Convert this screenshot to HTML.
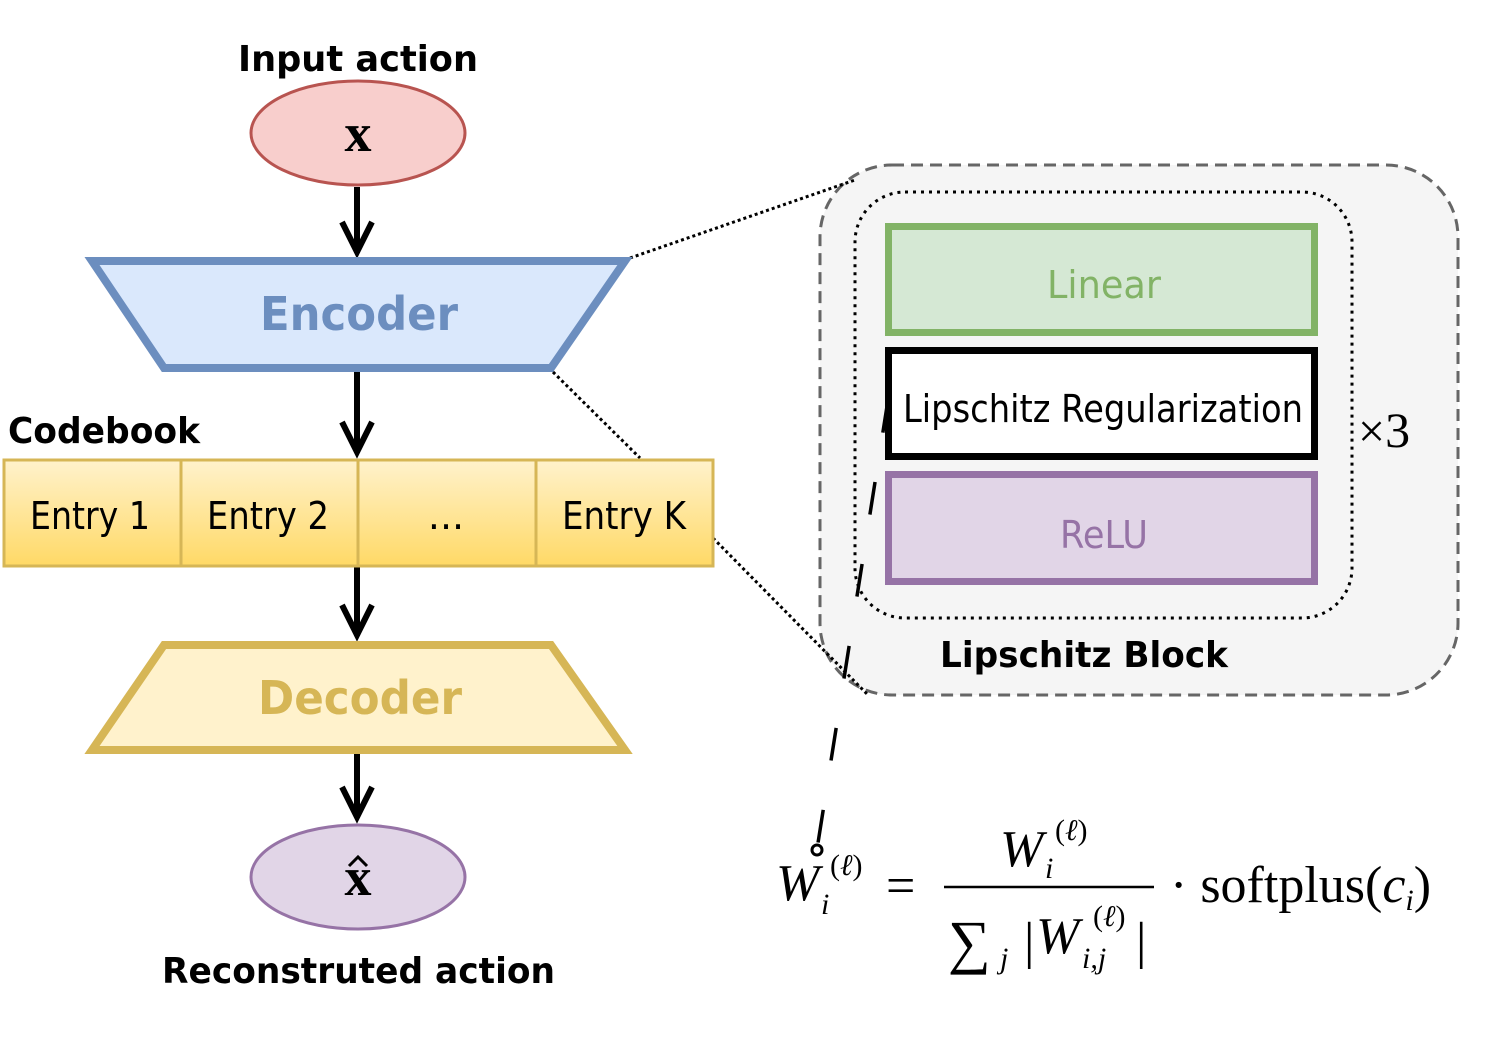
<!DOCTYPE html>
<html><head><meta charset="utf-8"><style>
html,body{margin:0;padding:0;background:#fff;}
svg{display:block;}
.s{font-family:"DejaVu Sans","Liberation Sans",sans-serif;}
.m{font-family:"Liberation Serif","DejaVu Serif",serif;}
</style></head><body>
<svg width="1499" height="1045" viewBox="0 0 1499 1045" xmlns="http://www.w3.org/2000/svg">
<defs>
<linearGradient id="g" x1="0" y1="0" x2="0" y2="1">
<stop offset="0" stop-color="#fff2cc"/><stop offset="1" stop-color="#ffd966"/>
</linearGradient>
</defs>
<rect x="820" y="165" width="638" height="530" rx="72" fill="#f5f5f5" stroke="#666" stroke-width="3" stroke-dasharray="12,7"/>
<rect x="855" y="192" width="497" height="426" rx="50" fill="none" stroke="#000" stroke-width="3" stroke-dasharray="3,5"/>
<line x1="630" y1="258" x2="855" y2="180" stroke="#000" stroke-width="3" stroke-dasharray="3,3"/>
<line x1="553" y1="372" x2="640" y2="458" stroke="#000" stroke-width="3" stroke-dasharray="3,3"/>
<line x1="713" y1="538" x2="868" y2="695" stroke="#000" stroke-width="3" stroke-dasharray="3,3"/>
<line x1="888" y1="400" x2="818" y2="843" stroke="#000" stroke-width="3.5" stroke-dasharray="33,50"/>
<circle cx="817" cy="850" r="5" fill="#fff" stroke="#000" stroke-width="3"/>
<rect x="888.5" y="226.5" width="426" height="106" fill="#d5e8d4" stroke="#82b366" stroke-width="7"/>
<text x="1104" y="298" class="s" font-size="38" fill="#82b366" text-anchor="middle" textLength="114" lengthAdjust="spacingAndGlyphs">Linear</text>
<rect x="888.5" y="350.5" width="426" height="106" fill="#fff" stroke="#000" stroke-width="7"/>
<text x="903" y="422" class="s" font-size="38" fill="#000" textLength="400" lengthAdjust="spacingAndGlyphs">Lipschitz Regularization</text>
<rect x="888.5" y="474.5" width="426" height="107" fill="#e1d5e7" stroke="#9673a6" stroke-width="7"/>
<text x="1104" y="548" class="s" font-size="38" fill="#9673a6" text-anchor="middle" textLength="88" lengthAdjust="spacingAndGlyphs">ReLU</text>
<text x="1358" y="447" class="m" font-size="48" fill="#000">×<tspan font-size="50">3</tspan></text>
<text x="940" y="667" class="s" font-size="36" font-weight="bold" fill="#000" textLength="288" lengthAdjust="spacingAndGlyphs">Lipschitz Block</text>
<text x="238" y="71" class="s" font-size="36" font-weight="bold" textLength="240" lengthAdjust="spacingAndGlyphs">Input action</text>
<ellipse cx="358" cy="133" rx="107" ry="52" fill="#f8cecc" stroke="#b85450" stroke-width="3"/>
<text x="358" y="151" class="m" font-size="54" font-weight="bold" text-anchor="middle">x</text>
<g stroke="#000" stroke-width="6" fill="none">
<line x1="357" y1="187" x2="357" y2="253"/><polyline points="342,222 357,252 372,222"/>
<line x1="357" y1="372" x2="357" y2="453"/><polyline points="342,422 357,452 372,422"/>
<line x1="357" y1="566" x2="357" y2="636"/><polyline points="342,605 357,635 372,605"/>
<line x1="357" y1="753" x2="357" y2="818"/><polyline points="342,787 357,817 372,787"/>
</g>
<polygon points="92,261 625,261 551,368 164,368" fill="#dae8fc" stroke="#6c8ebf" stroke-width="8"/>
<text x="260" y="330" class="s" font-size="46" font-weight="bold" fill="#6c8ebf" textLength="198" lengthAdjust="spacingAndGlyphs">Encoder</text>
<text x="8" y="443" class="s" font-size="36" font-weight="bold" textLength="192" lengthAdjust="spacingAndGlyphs">Codebook</text>
<rect x="4" y="460" width="709" height="106" fill="url(#g)" stroke="#d6b656" stroke-width="3"/>
<g stroke="#d6b656" stroke-width="3"><line x1="181" y1="460" x2="181" y2="566"/><line x1="358" y1="460" x2="358" y2="566"/><line x1="536" y1="460" x2="536" y2="566"/></g>
<g class="s" font-size="38">
<text x="30" y="529" textLength="120" lengthAdjust="spacingAndGlyphs">Entry 1</text>
<text x="207" y="529" textLength="122" lengthAdjust="spacingAndGlyphs">Entry 2</text>
<text x="446" y="529" text-anchor="middle">...</text>
<text x="562" y="529" textLength="124" lengthAdjust="spacingAndGlyphs">Entry K</text>
</g>
<polygon points="164,645 551,645 625,750 92,750" fill="#fff2cc" stroke="#d6b656" stroke-width="8"/>
<text x="258" y="714" class="s" font-size="46" font-weight="bold" fill="#d6b656" textLength="204" lengthAdjust="spacingAndGlyphs">Decoder</text>
<ellipse cx="358" cy="877" rx="107" ry="52" fill="#e1d5e7" stroke="#9673a6" stroke-width="3"/>
<text x="358" y="895" class="m" font-size="54" font-weight="bold" text-anchor="middle">x</text>
<polyline points="349,866 358,857 367,866" fill="none" stroke="#000" stroke-width="3"/>
<text x="162" y="983" class="s" font-size="36" font-weight="bold" textLength="393" lengthAdjust="spacingAndGlyphs">Reconstruted action</text>
<g class="m" fill="#000">
<text x="776" y="900" font-size="52" font-style="italic">W</text>
<text x="821" y="914" font-size="30" font-style="italic">i</text>
<text x="830" y="875" font-size="30">(<tspan font-style="italic">ℓ</tspan>)</text>
<text x="886" y="903" font-size="52">=</text>
<line x1="944" y1="887" x2="1154" y2="887" stroke="#000" stroke-width="2.5"/>
<text x="1000" y="866" font-size="52" font-style="italic">W</text>
<text x="1045" y="878" font-size="30" font-style="italic">i</text>
<text x="1055" y="840" font-size="30">(<tspan font-style="italic">ℓ</tspan>)</text>
<text x="948" y="962" font-size="60">∑</text>
<text x="1000" y="968" font-size="30" font-style="italic">j</text>
<text x="1024" y="958" font-size="52">|</text>
<text x="1036" y="953" font-size="52" font-style="italic">W</text>
<text x="1082" y="968" font-size="30" font-style="italic">i,j</text>
<text x="1093" y="926" font-size="30">(<tspan font-style="italic">ℓ</tspan>)</text>
<text x="1136" y="958" font-size="52">|</text>
<text x="1170" y="902" font-size="52">· softplus(<tspan font-style="italic">c</tspan><tspan font-size="30" font-style="italic" dy="8">i</tspan><tspan dy="-8">)</tspan></text>
</g>
</svg>
</body></html>
